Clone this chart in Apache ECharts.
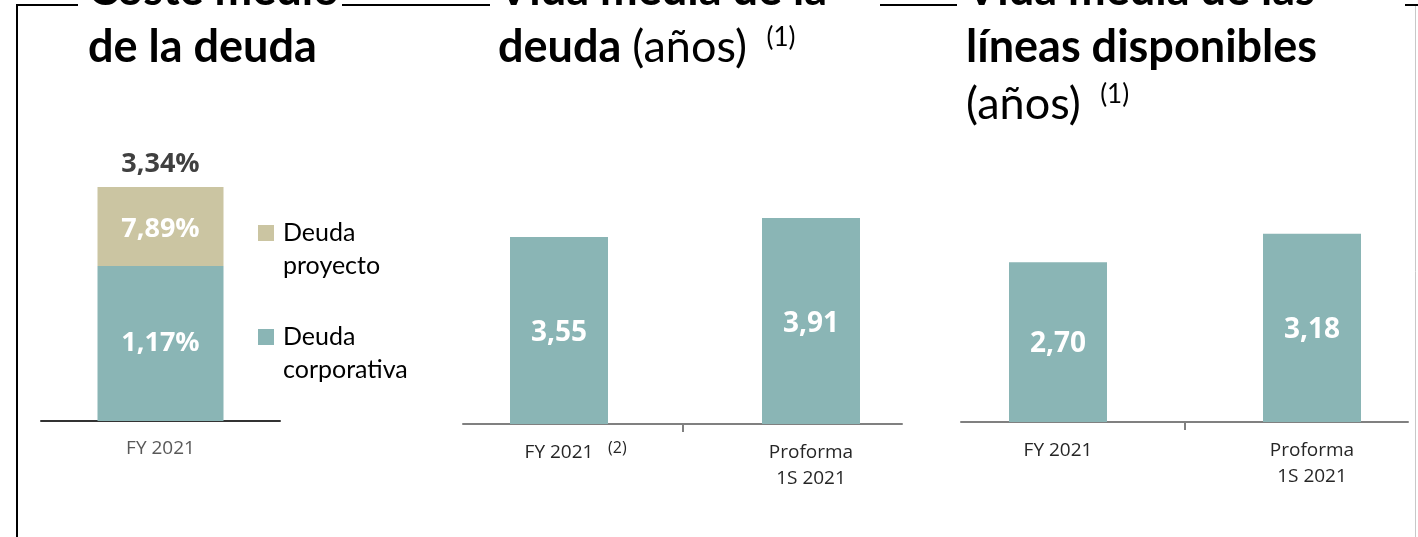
<!DOCTYPE html>
<html>
<head>
<meta charset="utf-8">
<script src="https://cdn.jsdelivr.net/npm/echarts@6/dist/echarts.min.js"></script>
<style>
  html, body { margin: 0; padding: 0; background: #fff; overflow: hidden; }
  #main { width: 1460px; height: 537px; }
</style>
</head>
<body>
<div id="main"></div>
<script>
// Coste medio de la deuda (share of debt drives the bar height, rate is the label)
const costCategories = ['FY 2021'];
const corpShare = [66.2];
const projShare = [33.8];
const corpRate = [1.17];
const projRate = [7.89];
const avgRate = [3.34];

// Vida media de la deuda (años)
const lifeCategories = ['FY 2021', 'Proforma\n1S 2021'];
const debtLife = [3.55, 3.91];

// Vida media de las líneas disponibles (años)
const linesCategories = ['FY 2021', 'Proforma\n1S 2021'];
const linesLife = [2.70, 3.18];

const TEAL = '#8ab5b5';
const BEIGE = '#cbc5a2';

const fmt = v => v.toFixed(2).replace('.', ',');

const titleRich = {
    b: { fontFamily: 'Lato', fontWeight: 'bold', fontSize: 45, lineHeight: 57, color: '#000' },
    r: { fontFamily: 'Lato', fontWeight: 'normal', fontSize: 45, lineHeight: 57, color: '#000' },
    s: { fontFamily: 'Lato', fontWeight: 'normal', fontSize: 26, lineHeight: 20, color: '#000', padding: [0, 0, 20, 8] }
};

const barLabel = {
    show: true,
    position: 'inside',
    color: '#fff',
    fontFamily: 'Open Sans',
    fontWeight: 'bold',
    fontSize: 27
};

// only the middle tick between the two columns, as in the original slide
const midTickAxis = (gridIndex) => ({
    gridIndex: gridIndex, type: 'category', data: ['', '', ''], boundaryGap: false,
    axisLine: { lineStyle: { color: '#808080', width: 2 } },
    axisTick: { show: true, length: 8, interval: i => i === 1, lineStyle: { color: '#808080', width: 2 } },
    axisLabel: { show: false }
});

const chart = echarts.init(document.getElementById('main'));

const option = {
    animation: false,
    title: [
        { text: '{b|Coste medio}\n{b|de la deuda}', left: 88, top: -38, padding: 0, textStyle: { rich: titleRich } },
        { text: '{b|Vida media de la}\n{b|deuda }{r|(años) }{s|(1)}', left: 498, top: -38, padding: 0, textStyle: { rich: titleRich } },
        { text: '{b|Vida media de las}\n{b|líneas disponibles}\n{r|(años) }{s|(1)}', left: 966, top: -38, padding: 0, textStyle: { rich: titleRich } }
    ],
    legend: {
        data: ['Deuda proyecto', 'Deuda corporativa'],
        orient: 'vertical',
        left: 258,
        top: 216.5,
        padding: 0,
        itemWidth: 20,
        itemHeight: 49,
        itemGap: 38,
        icon: 'path://M0,0h16v16h-16z M20,49',
        selectedMode: false,
        formatter: name => name.replace(' ', '\n'),
        textStyle: { fontFamily: 'Lato', fontSize: 25, lineHeight: 33, color: '#000' }
    },
    grid: [
        { left: 41, top: 187, width: 239, height: 234 },
        { left: 433, top: 160.5, width: 504, height: 263.5 },
        { left: 463, top: 160.5, width: 439, height: 263.5 },
        { left: 931, top: 126, width: 508, height: 296 },
        { left: 961, top: 126, width: 447, height: 296 }
    ],
    xAxis: [
        {
            gridIndex: 0, type: 'category', data: costCategories,
            axisLine: { lineStyle: { color: '#333', width: 2 } },
            axisTick: { show: false },
            axisLabel: { color: '#595959', fontFamily: 'Open Sans', fontSize: 19, lineHeight: 26, margin: 15 }
        },
        {
            gridIndex: 1, type: 'category', data: lifeCategories,
            axisLine: { show: false },
            axisTick: { show: false },
            axisLabel: {
                color: '#262626', fontFamily: 'Open Sans', fontSize: 19, lineHeight: 26, margin: 16,
                formatter: (v, i) => i === 0 ? '{p| }' + v + '{s|(2)}' : v,
                rich: {
                    p: { width: 35 },
                    s: { fontFamily: 'Open Sans', fontSize: 16, lineHeight: 16, width: 22, color: '#262626', padding: [0, 0, 10, 13] }
                }
            }
        },
        midTickAxis(2),
        {
            gridIndex: 3, type: 'category', data: linesCategories,
            axisLine: { show: false },
            axisTick: { show: false },
            axisLabel: { color: '#262626', fontFamily: 'Open Sans', fontSize: 19, lineHeight: 26, margin: 16 }
        },
        midTickAxis(4)
    ],
    yAxis: [
        { gridIndex: 0, type: 'value', min: 0, max: 100, show: false },
        { gridIndex: 1, type: 'value', min: 0, max: 5, show: false },
        { gridIndex: 2, type: 'value', min: 0, max: 5, show: false },
        { gridIndex: 3, type: 'value', min: 0, max: 5, show: false },
        { gridIndex: 4, type: 'value', min: 0, max: 5, show: false }
    ],
    series: [
        {
            name: 'Deuda corporativa', type: 'bar', xAxisIndex: 0, yAxisIndex: 0, stack: 'coste',
            data: corpShare, barWidth: 126, barGap: '-100%',
            itemStyle: { color: TEAL },
            label: Object.assign({}, barLabel, { formatter: p => fmt(corpRate[p.dataIndex]) + '%' })
        },
        {
            name: 'Deuda proyecto', type: 'bar', xAxisIndex: 0, yAxisIndex: 0, stack: 'coste',
            data: projShare, barWidth: 126, barGap: '-100%',
            itemStyle: { color: BEIGE },
            label: Object.assign({}, barLabel, { offset: [0, 3], formatter: p => fmt(projRate[p.dataIndex]) + '%' })
        },
        {
            name: 'Total', type: 'bar', xAxisIndex: 0, yAxisIndex: 0,
            data: corpShare.map((v, i) => v + projShare[i]), barWidth: 126, barGap: '-100%', z: 1,
            itemStyle: { color: 'rgba(0,0,0,0)' },
            label: {
                show: true, position: 'top', distance: 9, color: '#404040',
                fontFamily: 'Open Sans', fontWeight: 'bold', fontSize: 27,
                formatter: p => fmt(avgRate[p.dataIndex]) + '%'
            }
        },
        {
            name: 'Vida media deuda', type: 'bar', xAxisIndex: 1, yAxisIndex: 1,
            data: debtLife, barWidth: 98,
            itemStyle: { color: TEAL },
            label: Object.assign({}, barLabel, { fontSize: 28, offset: [0, 3], formatter: p => fmt(p.value) })
        },
        {
            name: 'Vida media líneas', type: 'bar', xAxisIndex: 3, yAxisIndex: 3,
            data: linesLife, barWidth: 98,
            itemStyle: { color: TEAL },
            label: Object.assign({}, barLabel, { fontSize: 28, offset: [0, 2], formatter: p => fmt(p.value) })
        }
    ],
    graphic: [
        { type: 'line', shape: { x1: 16, y1: 5, x2: 78, y2: 5 }, style: { stroke: '#000', lineWidth: 2 } },
        { type: 'line', shape: { x1: 342, y1: 5, x2: 490, y2: 5 }, style: { stroke: '#000', lineWidth: 2 } },
        { type: 'line', shape: { x1: 880, y1: 5, x2: 957, y2: 5 }, style: { stroke: '#000', lineWidth: 2 } },
        { type: 'line', shape: { x1: 1405, y1: 5, x2: 1418, y2: 5 }, style: { stroke: '#000', lineWidth: 2 } },
        { type: 'line', shape: { x1: 17, y1: 4, x2: 17, y2: 537 }, style: { stroke: '#000', lineWidth: 2 } },
        { type: 'line', shape: { x1: 1415.5, y1: 6, x2: 1415.5, y2: 537 }, style: { stroke: '#c8c8c8', lineWidth: 1 } }
    ]
};

chart.setOption(option);
</script>
</body>
</html>
